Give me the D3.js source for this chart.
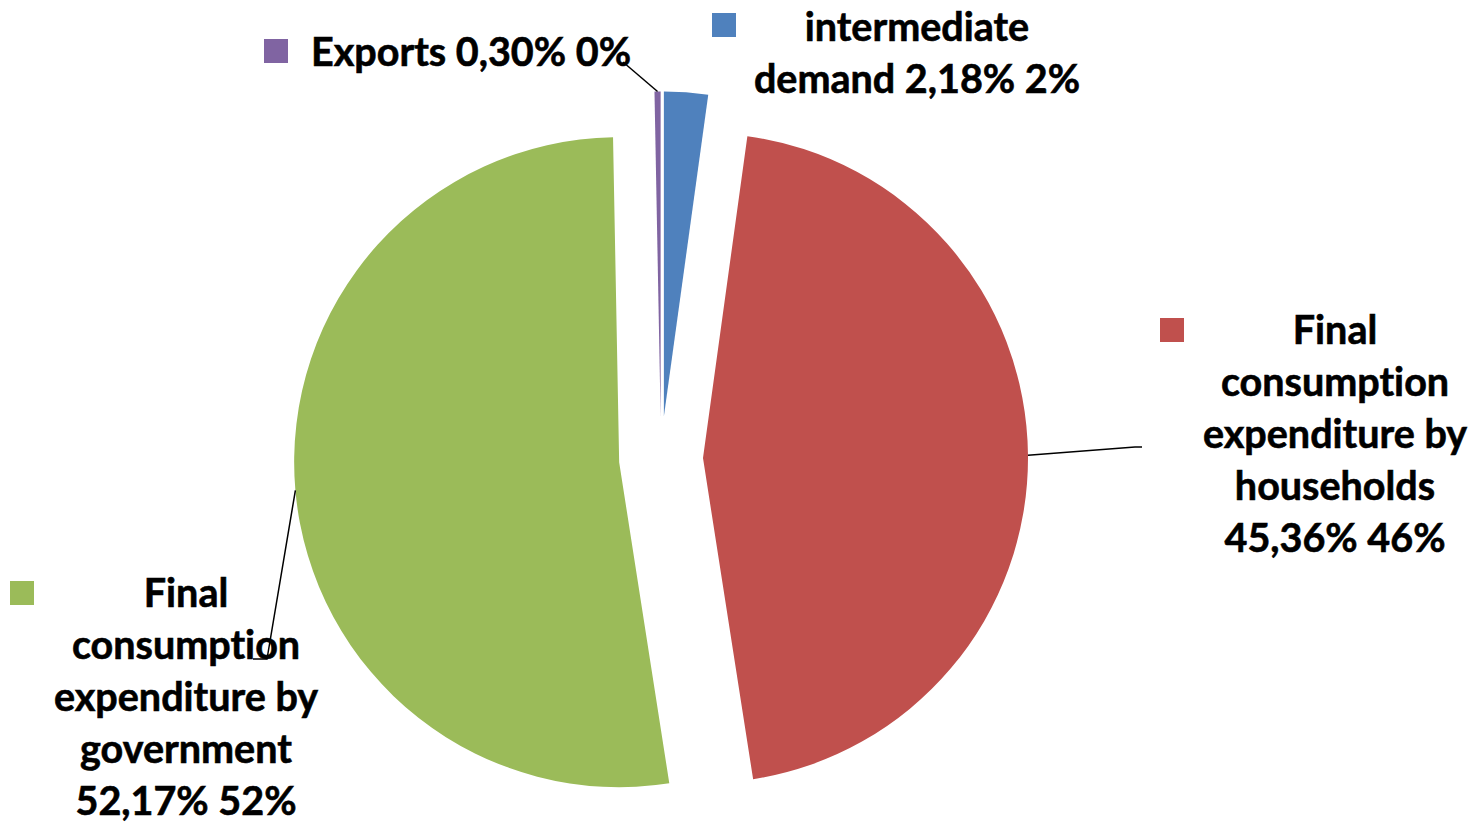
<!DOCTYPE html>
<html>
<head>
<meta charset="utf-8">
<script src="https://cdn.jsdelivr.net/npm/d3@7"></script>
<style>
  html, body { margin: 0; padding: 0; background: #fff; }
  svg { display: block; }
  .lbl { font-family: Lato, "Open Sans", sans-serif; font-weight: 700; font-size: 39.5px; fill: #000; stroke: #000; stroke-width: 0.6px; font-variant-ligatures: none; font-feature-settings: "liga" 0, "clig" 0, "dlig" 0; }
</style>
</head>
<body>
<svg id="chart" width="1474" height="822"></svg>
<script>
// ---- data ----
const categories = ["intermediate demand", "Final consumption expenditure by households", "Final consumption expenditure by government", "Exports"];
const values = [2.18, 45.36, 52.17, 0.30];
const roundedLabels = ["2%", "46%", "52%", "0%"];
const colors = ["#4F81BD", "#C0504D", "#9BBB59", "#8064A2"];
// words per label line
const wrapCounts = [[1, 3], [1, 1, 2, 1, 2], [1, 1, 2, 1, 2], [3]];

// ---- layout ----
const W = 1474, H = 822;
const cx = 661, cy = 458.5, R = 325, explode = 42;
const lineH = 52;
// label placement: text centre x, first baseline y, key square x/y, leader end points
const labelLayout = [
  { tx: 917, ty: 41, kx: 712, ky: 13, leader: null },
  { tx: 1335, ty: 344, kx: 1160, ky: 318, leader: [[1135, 447], [1142, 447]] },
  { tx: 186, ty: 607, kx: 10, ky: 581, leader: [[267, 659], [253, 659]] },
  { tx: 471, ty: 66, kx: 264, ky: 39, leader: [[623, 62]] }
];
const leaderAngleFrac = [null, 0.5, 0.5, 0.5]; // where along each slice arc the leader attaches

const svg = d3.select("#chart");
const pie = d3.pie().sort(null).value(d => d).startAngle(0).endAngle(2 * Math.PI);
const arcs = pie(values);
const arc = d3.arc().innerRadius(0).outerRadius(R);

const g = svg.append("g").attr("transform", `translate(${cx},${cy})`);

function offsetOf(a) {
  const mid = (a.startAngle + a.endAngle) / 2;
  return [Math.sin(mid) * explode, -Math.cos(mid) * explode];
}

g.selectAll("path.slice")
  .data(arcs)
  .join("path")
  .attr("class", "slice")
  .attr("d", arc)
  .attr("fill", (d, i) => colors[i])
  .attr("transform", d => { const o = offsetOf(d); return `translate(${o[0]},${o[1]})`; });

// leader lines
const fmt = v => v.toFixed(2).replace(".", ",");
arcs.forEach((a, i) => {
  const L = labelLayout[i];
  if (!L.leader) return;
  const o = offsetOf(a);
  const ang = a.startAngle + (a.endAngle - a.startAngle) * leaderAngleFrac[i];
  const p0 = [cx + o[0] + Math.sin(ang) * R, cy + o[1] - Math.cos(ang) * R];
  const pts = [p0].concat(L.leader);
  svg.append("path")
    .attr("d", d3.line()(pts))
    .attr("fill", "none")
    .attr("stroke", "#000")
    .attr("stroke-width", 1.5);
});

// labels
categories.forEach((name, i) => {
  const L = labelLayout[i];
  const words = `${name} ${fmt(values[i])}% ${roundedLabels[i]}`.split(" ");
  const lines = [];
  let k = 0;
  wrapCounts[i].forEach(n => { lines.push(words.slice(k, k + n).join(" ")); k += n; });
  svg.append("rect")
    .attr("x", L.kx).attr("y", L.ky).attr("width", 24).attr("height", 24)
    .attr("fill", colors[i]);
  const t = svg.append("text").attr("class", "lbl").attr("text-anchor", "middle");
  lines.forEach((ln, j) => {
    t.append("tspan").attr("x", L.tx).attr("y", L.ty + j * lineH).text(ln);
  });
});
</script>
</body>
</html>
